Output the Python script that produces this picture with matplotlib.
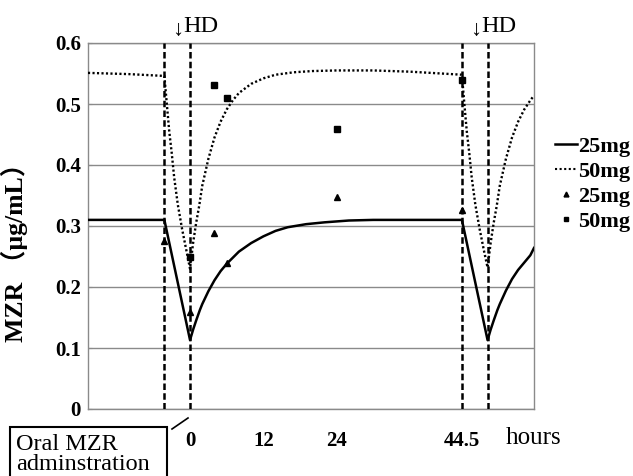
import matplotlib
matplotlib.use("Agg")
import matplotlib.pyplot as plt
from matplotlib.lines import Line2D
from matplotlib.patches import Rectangle
import matplotlib.transforms as mtransforms

plt.rcParams['font.family'] = ['Liberation Serif', 'DejaVu Serif']

# ---- data (hours relative to end of first HD session) ----
solid_t = [-16.7, -4.2, 0, 0.5, 1, 1.6, 2, 3, 4, 5, 6, 8, 10, 12, 14, 16, 19, 22, 26, 30,
           44.5, 48.7, 49.2, 49.7, 50.3, 50.7, 51.7, 52.7, 53.7, 54.7, 55.7, 56.3]
solid_v = [0.310, 0.310, 0.113, 0.130, 0.145, 0.162, 0.172, 0.193, 0.211, 0.226, 0.238, 0.258,
           0.272, 0.283, 0.292, 0.298, 0.303, 0.306, 0.309, 0.310,
           0.310, 0.113, 0.130, 0.145, 0.162, 0.172, 0.194, 0.213, 0.228, 0.240, 0.252, 0.264]

dot_t = [-16.7, -10, -4.2, -3.8, -3.4, -3.0, -2.6, -2.0, -1.3, -0.6, 0,
         0.5, 1, 1.5, 2, 3, 4, 5, 6, 7, 8, 10, 12, 14, 17, 20, 24, 30, 36, 44.5,
         44.9, 45.3, 45.7, 46.1, 46.7, 47.4, 48.1, 48.7,
         49.2, 49.7, 50.2, 50.7, 51.7, 52.7, 53.7, 54.7, 55.7, 56.3]
dot_v = [0.551, 0.549, 0.546, 0.500, 0.455, 0.420, 0.380, 0.335, 0.295, 0.260, 0.230,
         0.272, 0.305, 0.333, 0.366, 0.410, 0.445, 0.471, 0.491, 0.506, 0.518, 0.533, 0.542,
         0.548, 0.552, 0.554, 0.555, 0.555, 0.553, 0.548,
         0.500, 0.455, 0.420, 0.380, 0.335, 0.295, 0.260, 0.232,
         0.272, 0.305, 0.333, 0.366, 0.410, 0.445, 0.471, 0.491, 0.506, 0.514]

tri_t = [-4.2, 0, 4, 6, 24, 44.5]
tri_v = [0.275, 0.159, 0.289, 0.239, 0.348, 0.326]

sq_t = [0, 4, 6, 24, 44.5]
sq_v = [0.249, 0.531, 0.510, 0.459, 0.539]

hd_start = [-4.2, 44.5]
hd_end = [0, 48.7]

xtick_pos = [0, 12, 24, 44.5]
xtick_lab = ['0', '12', '24', '44.5']
ytick_pos = [0, 0.1, 0.2, 0.3, 0.4, 0.5, 0.6]
ytick_lab = ['0', '0.1', '0.2', '0.3', '0.4', '0.5', '0.6']
legend_labels = ['25mg', '50mg', '25mg', '50mg']

W, H = 633, 476
fig = plt.figure(figsize=(W / 100, H / 100), dpi=100)
ax = fig.add_axes([88 / W, 1 - 409 / H, (534 - 88) / W, (409 - 43) / H])
ax.set_xlim(-16.7, 56.3)
ax.set_ylim(0, 0.6)

grey = '#8a8a8a'
for s in ax.spines.values():
    s.set_color(grey)
    s.set_linewidth(1.0)
ax.set_yticks(ytick_pos)
ax.set_yticklabels(ytick_lab, fontsize=15, fontweight='bold')
ax.yaxis.grid(True, color=grey, lw=1.0)
ax.set_axisbelow(True)
ax.tick_params(axis='y', length=3, direction='in', color=grey, pad=5)
ax.set_xticks(xtick_pos)
ax.set_xticklabels(xtick_lab, fontsize=15, fontweight='bold')
ax.tick_params(axis='x', length=0, pad=16)

# HD dashed lines
for a, b in zip(hd_start, hd_end):
    for x in (a, b):
        ax.axvline(x, color='black', lw=1.8, ls=(0, (2.6, 1.3)), zorder=3)

ax.plot(solid_t, solid_v, color='black', lw=1.8, zorder=4)
ax.plot(dot_t, dot_v, color='black', lw=1.7, ls=(0, (0.9, 1.0)), zorder=4)
ax.plot(tri_t, tri_v, ls='none', marker='^', color='black', ms=4.0, zorder=5)
ax.plot(sq_t, sq_v, ls='none', marker='s', color='black', ms=4.6, zorder=5)

# HD labels
trans = mtransforms.blended_transform_factory(ax.transData, ax.transAxes)
for a in hd_start:
    ax.text(a + 2.2, (409 - 30) / 366, '\u2193', transform=trans, ha='center', va='center',
            fontsize=16, family=['Liberation Serif', 'DejaVu Sans'], clip_on=False)
    ax.text(a + 3.1, (409 - 26) / 366, 'HD', transform=trans, ha='left', va='center',
            fontsize=17.5, clip_on=False)

ax.text(1.0, -(438 - 409) / 366, 'hours', transform=ax.transAxes, ha='center', va='center',
        fontsize=18)

ax.set_ylabel('MZR \uff08\u03bcg/mL\uff09', fontsize=18.5, fontweight='bold',
              family=['Liberation Serif', 'Noto Sans CJK JP'])
ax.yaxis.set_label_coords(-(88 - 28) / 446, (409 - 246) / 366)

# legend
handles = [Line2D([], [], color='black', lw=1.8),
           Line2D([], [], color='black', lw=1.5, ls=(0, (1, 1.2))),
           Line2D([], [], ls='none', marker='^', color='black', ms=3.5),
           Line2D([], [], ls='none', marker='s', color='black', ms=3.5)]
ax.legend(handles, legend_labels, loc='upper left', bbox_to_anchor=(555 / W, 1 - 136 / H),
          bbox_transform=fig.transFigure, frameon=False, borderpad=0, borderaxespad=0,
          handlelength=1.0, handletextpad=0.05, labelspacing=0.2,
          prop={'family': 'Liberation Serif', 'weight': 'bold', 'size': 16})

# oral administration box
fig.add_artist(Rectangle((10 / W, -0.02), (167 - 10) / W, (476 - 427) / H + 0.02,
                         transform=fig.transFigure, fill=False, lw=1.5, ec='black'))
fig.text(16 / W, 1 - 444 / H, 'Oral MZR', fontsize=17.5, va='center', ha='left')
fig.text(16 / W, 1 - 464 / H, 'adminstration', fontsize=17.5, va='center', ha='left')
fig.add_artist(Line2D([172 / W, 188 / W], [1 - 429 / H, 1 - 418 / H],
                      transform=fig.transFigure, color='black', lw=1.2))

fig.savefig('out.png', dpi=100)
